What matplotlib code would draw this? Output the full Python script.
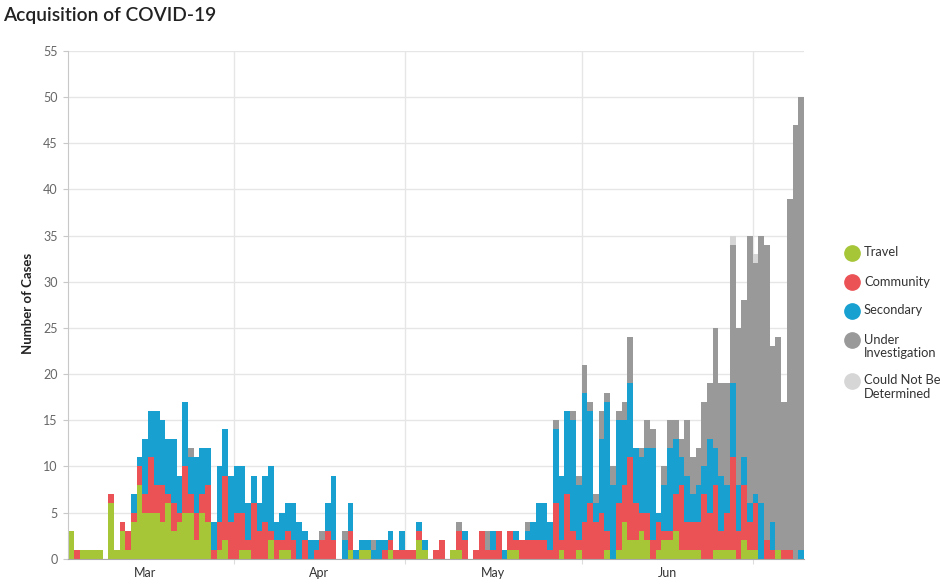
import numpy as np
import pandas as pd
import matplotlib
matplotlib.use("Agg")
import matplotlib.pyplot as plt
import matplotlib.dates as mdates
from matplotlib.lines import Line2D

plt.rcParams["font.family"] = ["Lato", "DejaVu Sans"]

# daily counts, one value per day starting Mar 3
dates = pd.date_range("2020-03-03", periods=129, freq="D")

travel = [3, 0, 1, 1, 1, 1, 0, 6, 1, 3,
          1, 4, 8, 5, 5, 5, 4, 6, 3, 4,
          5, 5, 2, 5, 4, 0, 1, 2, 0, 0,
          1, 1, 0, 0, 0, 2, 0, 1, 1, 0,
          0, 0, 0, 0, 0, 0, 0, 0, 0, 1,
          0, 1, 1, 0, 0, 0, 1, 0, 0, 0,
          0, 2, 1, 0, 0, 0, 0, 1, 1, 0,
          0, 0, 0, 0, 0, 0, 0, 1, 1, 0,
          0, 0, 0, 0, 0, 0, 1, 0, 0, 1,
          0, 0, 0, 0, 1, 0, 1, 4, 2, 2,
          3, 2, 0, 1, 2, 2, 3, 1, 1, 1,
          1, 0, 0, 1, 1, 1, 1, 0, 2, 1,
          1, 0, 0, 0, 1, 0, 0, 0, 0]
community = [0, 1, 0, 0, 0, 0, 0, 1, 0, 1,
             2, 1, 2, 2, 6, 3, 4, 1, 3, 1,
             5, 2, 3, 2, 4, 1, 3, 7, 4, 5,
             4, 1, 6, 3, 4, 1, 2, 1, 2, 2,
             0, 2, 0, 1, 2, 3, 2, 0, 0, 2,
             0, 0, 0, 0, 0, 1, 1, 1, 1, 1,
             1, 1, 0, 0, 1, 2, 0, 0, 2, 2,
             0, 1, 3, 1, 1, 3, 0, 2, 1, 2,
             2, 2, 2, 2, 1, 6, 1, 7, 3, 1,
             4, 6, 4, 5, 2, 0, 5, 4, 9, 4,
             2, 3, 2, 3, 1, 1, 4, 7, 3, 3,
             3, 7, 5, 7, 2, 4, 10, 3, 6, 3,
             5, 0, 2, 1, 0, 1, 1, 0, 0]
secondary = [0, 0, 0, 0, 0, 0, 0, 0, 0, 0,
             0, 2, 1, 6, 5, 8, 7, 6, 7, 4,
             7, 4, 6, 5, 4, 3, 6, 5, 5, 5,
             5, 4, 3, 3, 5, 7, 2, 3, 3, 4,
             4, 1, 2, 1, 0, 3, 7, 0, 2, 3,
             1, 1, 1, 1, 2, 1, 1, 0, 2, 0,
             0, 1, 1, 0, 0, 0, 0, 0, 0, 1,
             0, 0, 0, 0, 2, 0, 1, 0, 1, 0,
             1, 2, 4, 4, 3, 8, 7, 9, 12, 6,
             14, 10, 2, 8, 14, 8, 9, 7, 8, 6,
             6, 7, 10, 1, 5, 9, 6, 3, 5, 3,
             4, 3, 8, 4, 6, 3, 8, 5, 3, 2,
             1, 6, 0, 3, 0, 0, 0, 0, 1]
under_investigation = [0, 0, 0, 0, 0, 0, 0, 0, 0, 0,
                       0, 0, 0, 0, 0, 0, 0, 0, 0, 0,
                       0, 1, 0, 0, 0, 0, 0, 0, 0, 0,
                       0, 0, 0, 0, 0, 0, 0, 0, 0, 0,
                       0, 0, 0, 0, 1, 0, 0, 0, 1, 0,
                       0, 0, 0, 1, 0, 0, 0, 0, 0, 0,
                       0, 0, 0, 0, 0, 0, 0, 0, 1, 0,
                       0, 0, 0, 2, 0, 0, 0, 0, 0, 0,
                       1, 0, 0, 0, 0, 1, 0, 0, 1, 1,
                       3, 1, 1, 3, 1, 2, 1, 2, 5, 0,
                       1, 3, 2, 0, 2, 3, 2, 2, 6, 4,
                       4, 7, 6, 13, 10, 11, 15, 17, 17, 29,
                       25, 29, 32, 19, 23, 16, 38, 47, 49]
not_determined = [0, 0, 0, 0, 0, 0, 0, 0, 0, 0,
                  0, 0, 0, 0, 0, 0, 0, 0, 0, 0,
                  0, 0, 0, 0, 0, 0, 0, 0, 0, 0,
                  0, 0, 0, 0, 0, 0, 0, 0, 0, 0,
                  0, 0, 0, 0, 0, 0, 0, 0, 0, 0,
                  0, 0, 0, 0, 0, 0, 0, 0, 0, 0,
                  0, 0, 0, 0, 0, 0, 0, 0, 0, 0,
                  0, 0, 0, 0, 0, 0, 0, 0, 0, 0,
                  0, 0, 0, 0, 0, 0, 0, 0, 0, 0,
                  0, 0, 0, 0, 0, 0, 0, 0, 0, 0,
                  0, 0, 0, 0, 0, 0, 0, 0, 0, 0,
                  0, 0, 0, 0, 0, 0, 1, 0, 0, 0,
                  1, 0, 0, 0, 0, 0, 0, 0, 0]

labels = ["Travel", "Community", "Secondary", "Under\nInvestigation",
          "Could Not Be\nDetermined"]
colors = ["#a6c638", "#eb5256", "#17a0d0", "#999999", "#d6d6d6"]
series = [travel, community, secondary, under_investigation, not_determined]

fig = plt.figure(figsize=(9.45, 5.86), dpi=100)
ax = fig.add_axes([68.3 / 945, 27.2 / 586, 735.7 / 945, 508 / 586])

bottom = np.zeros(len(dates))
for vals, color in zip(series, colors):
    vals = np.array(vals)
    ax.bar(dates, vals, width=1.0, align="edge", bottom=bottom,
           color=color, linewidth=0, zorder=2)
    bottom += vals

ax.set_xlim(dates[0], dates[-1] + pd.Timedelta(days=1))
ax.set_ylim(0, 55)
ax.set_yticks(range(0, 56, 5))

# gridlines at month starts, month names centred in each month
month_starts = pd.date_range("2020-03-01", periods=5, freq="MS")
month_mids = month_starts[:-1] + (month_starts[1:] - month_starts[:-1]) / 2
ax.set_xticks(month_starts[1:])
ax.xaxis.set_major_formatter(plt.NullFormatter())
ax.set_xticks(month_mids, minor=True)
ax.xaxis.set_minor_formatter(mdates.DateFormatter("%b"))

ax.grid(axis="y", color="#e6e6e6", linewidth=1, zorder=0)
ax.grid(axis="x", which="major", color="#e6e6e6", linewidth=1, zorder=0)
ax.set_axisbelow(True)

for s in ["top", "right"]:
    ax.spines[s].set_visible(False)
ax.spines["left"].set_color("#c8c8c8")
ax.spines["bottom"].set_color("#a8a8a8")

ax.tick_params(axis="y", length=3.6, color="#c8c8c8", labelsize=9,
               labelcolor="#666666", pad=4)
ax.tick_params(axis="x", which="major", length=3.6, color="#dddddd")
ax.tick_params(axis="x", which="minor", length=0, labelsize=9,
               labelcolor="#333333", pad=6)

fig.text(3 / 945, 1 - 15 / 586, "Acquisition of COVID-19", fontsize=13.8,
         weight="semibold", color="#222222", va="center", ha="left")
fig.text(28 / 945, 1 - 303 / 586, "Number of Cases", rotation=90,
         fontsize=9.5, weight="bold", color="#222222", va="center",
         ha="center")

# legend, drawn by hand so the dot sits on the first line of each label
legend_y = [253, 282, 311, 340, 381]
for label, color, y in zip(labels, colors, legend_y):
    fig.add_artist(Line2D([852 / 945], [1 - y / 586], marker="o",
                          markersize=11, color=color, linestyle="",
                          transform=fig.transFigure))
    fig.text(864 / 945, 1 - (y - 6.5) / 586, label, fontsize=9.3,
             color="#333333", va="top", ha="left", linespacing=1.15)

fig.savefig("out.png", dpi=100)
